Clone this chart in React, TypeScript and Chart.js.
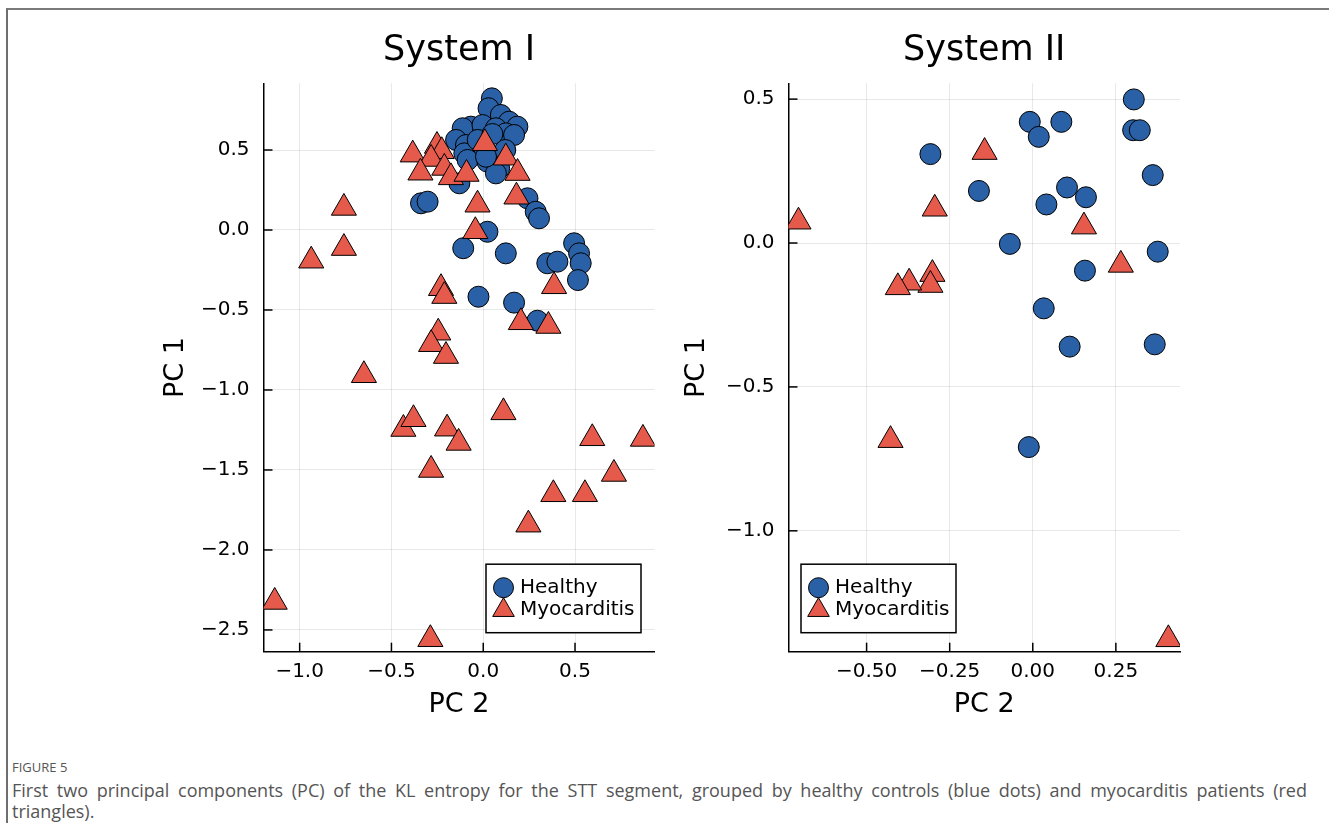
import React, { useEffect, useRef } from 'react';
import { Chart, registerables } from 'chart.js';

Chart.register(...registerables);

// ---------- data ----------
const SERIES_LABELS = ['Healthy', 'Myocarditis'];
const PANEL_TITLES = ['System I', 'System II'];
const X_TITLE = 'PC 2';
const Y_TITLE = 'PC 1';

// System I
const S1_HEALTHY_X = [0.047, 0.029, 0.096, 0.141, 0.186, -0.067, -0.112, -0.004, 0.069, 0.123, 0.168, -0.148, -0.094, -0.04, -0.103, -0.085, 0.023, 0.087, 0.069, -0.13, 0.12, -0.03, 0.015, 0.05, -0.339, -0.303, 0.241, 0.286, 0.304, 0.023, -0.109, 0.123, 0.495, 0.522, 0.531, 0.349, 0.404, 0.516, -0.026, 0.168, 0.295];
const S1_HEALTHY_Y = [0.823, 0.761, 0.719, 0.677, 0.646, 0.646, 0.636, 0.656, 0.636, 0.604, 0.594, 0.563, 0.531, 0.5, 0.479, 0.438, 0.427, 0.386, 0.354, 0.292, 0.5, 0.563, 0.458, 0.6, 0.167, 0.177, 0.198, 0.114, 0.073, -0.011, -0.114, -0.146, -0.083, -0.146, -0.208, -0.208, -0.198, -0.313, -0.417, -0.454, -0.567];
const S1_MYO_X = [-0.759, -0.759, -0.937, -0.384, -0.252, -0.226, -0.284, -0.342, -0.212, -0.176, -0.091, 0.009, 0.123, 0.187, 0.181, -0.031, -0.043, -0.23, -0.212, 0.386, 0.205, 0.355, -0.245, -0.284, -0.203, -0.65, -0.435, -0.38, -0.197, -0.134, -0.284, 0.11, 0.594, 0.87, 0.712, 0.554, 0.382, 0.246, -1.136, -0.288];
const S1_MYO_Y = [0.138, -0.113, -0.192, 0.471, 0.525, 0.492, 0.444, 0.358, 0.388, 0.329, 0.35, 0.542, 0.452, 0.356, 0.208, 0.158, -0.008, -0.364, -0.413, -0.352, -0.577, -0.6, -0.642, -0.714, -0.788, -0.908, -1.244, -1.183, -1.242, -1.331, -1.5, -1.14, -1.302, -1.306, -1.525, -1.652, -1.652, -1.842, -2.325, -2.558];

// System II
const S2_HEALTHY_X = [0.304, 0.302, 0.322, 0.361, -0.009, 0.086, 0.018, -0.308, -0.162, 0.103, 0.16, 0.041, -0.069, 0.376, 0.157, 0.033, 0.111, 0.367, -0.012];
const S2_HEALTHY_Y = [0.499, 0.392, 0.392, 0.236, 0.421, 0.421, 0.369, 0.309, 0.181, 0.193, 0.159, 0.134, -0.003, -0.03, -0.096, -0.227, -0.36, -0.352, -0.709];
const S2_MYO_X = [-0.705, -0.145, -0.295, 0.154, 0.265, -0.302, -0.308, -0.372, -0.406, -0.428, 0.408];
const S2_MYO_Y = [0.074, 0.316, 0.119, 0.057, -0.076, -0.108, -0.146, -0.138, -0.154, -0.685, -1.377];

// axes
const S1_X_RANGE = [-1.197, 0.933];
const S1_Y_RANGE = [-2.636, 0.917];
const S1_X_TICKS = [-1.0, -0.5, 0.0, 0.5];
const S1_X_TICK_LABELS = ['\u22121.0', '\u22120.5', '0.0', '0.5'];
const S1_Y_TICKS = [0.5, 0.0, -0.5, -1.0, -1.5, -2.0, -2.5];
const S1_Y_TICK_LABELS = ['0.5', '0.0', '\u22120.5', '\u22121.0', '\u22121.5', '\u22122.0', '\u22122.5'];

const S2_X_RANGE = [-0.735, 0.443];
const S2_Y_RANGE = [-1.42, 0.555];
const S2_X_TICKS = [-0.5, -0.25, 0.0, 0.25];
const S2_X_TICK_LABELS = ['\u22120.50', '\u22120.25', '0.00', '0.25'];
const S2_Y_TICKS = [0.5, 0.0, -0.5, -1.0];
const S2_Y_TICK_LABELS = ['0.5', '0.0', '\u22120.5', '\u22121.0'];

const CAPTION_LABEL = 'FIGURE 5';
const CAPTION_LINE1 = 'First two principal components (PC) of the KL entropy for the STT segment, grouped by healthy controls (blue dots) and myocarditis patients (red';
const CAPTION_LINE2 = 'triangles).';

// ---------- styles ----------
const BLUE = '#2960a6';
const RED = '#e65a4b';
const FONT = '"DejaVu Sans", sans-serif';

const zip = (xs: number[], ys: number[]) => xs.map((x, i) => ({ x, y: ys[i] }));

const innerTicksPlugin = {
  id: 'innerTicks',
  afterDatasetsDraw(chart: any) {
    const { ctx, chartArea: a, scales } = chart;
    ctx.save();
    ctx.strokeStyle = '#000';
    ctx.lineWidth = 1.5;
    for (const t of scales.x.ticks) {
      const p = scales.x.getPixelForValue(t.value);
      ctx.beginPath();
      ctx.moveTo(p, a.bottom);
      ctx.lineTo(p, a.bottom - 9);
      ctx.stroke();
    }
    for (const t of scales.y.ticks) {
      const p = scales.y.getPixelForValue(t.value);
      ctx.beginPath();
      ctx.moveTo(a.left, p);
      ctx.lineTo(a.left + 9, p);
      ctx.stroke();
    }
    ctx.restore();
  },
};

const boxLegendPlugin = {
  id: 'boxLegend',
  afterDraw(chart: any, _args: any, opts: any) {
    const { ctx, chartArea: a } = chart;
    const w = 155;
    const h = 68.5;
    const left = opts.side === 'right' ? a.right - 13.5 - w : a.left + 12.5;
    const top = a.bottom - 19 - h;
    ctx.save();
    ctx.fillStyle = '#fff';
    ctx.fillRect(left, top, w, h);
    ctx.strokeStyle = '#000';
    ctx.lineWidth = 1.5;
    ctx.strokeRect(left, top, w, h);
    const rows = [top + 23.5, top + 46];
    chart.data.datasets.forEach((ds: any, i: number) => {
      const cx = left + 17.5;
      const cy = rows[i];
      ctx.fillStyle = ds.backgroundColor;
      ctx.strokeStyle = '#000';
      ctx.lineWidth = 1;
      ctx.beginPath();
      if (ds.pointStyle === 'circle') {
        ctx.arc(cx, cy, 10, 0, Math.PI * 2);
      } else {
        const r = 12.5;
        ctx.moveTo(cx, cy - r);
        ctx.lineTo(cx + r * 0.866, cy + r * 0.5);
        ctx.lineTo(cx - r * 0.866, cy + r * 0.5);
        ctx.closePath();
      }
      ctx.fill();
      ctx.stroke();
      ctx.fillStyle = '#000';
      ctx.font = `20px ${FONT}`;
      ctx.textBaseline = 'middle';
      ctx.textAlign = 'left';
      ctx.fillText(ds.label, left + 34, cy);
    });
    ctx.restore();
  },
};

type PanelProps = {
  title: string;
  healthy: { x: number; y: number }[];
  myo: { x: number; y: number }[];
  xRange: number[];
  yRange: number[];
  xTicks: number[];
  xTickLabels: string[];
  yTicks: number[];
  yTickLabels: string[];
  left: number;
  width: number;
  chartLeft: number;
  chartRight: number;
  yTitlePad: number;
  legendSide: 'left' | 'right';
};

const HEIGHT = 720;
const CHART_TOP = 73.3;
const CHART_BOTTOM = 641.7;
const TITLE_PAD_TOP = 19.5;

function labelFor(ticks: number[], labels: string[], v: number) {
  const i = ticks.findIndex((t) => Math.abs(t - v) < 1e-9);
  return i >= 0 ? labels[i] : '';
}

function Panel(p: PanelProps) {
  const ref = useRef<HTMLCanvasElement | null>(null);
  useEffect(() => {
    if (!ref.current) return;
    const chart = new Chart(ref.current, {
      type: 'scatter',
      data: {
        datasets: [
          {
            label: SERIES_LABELS[0],
            data: p.healthy,
            pointStyle: 'circle',
            pointRadius: 10.5,
            backgroundColor: BLUE,
            borderColor: '#000',
            borderWidth: 1,
            order: 1,
            clip: 0,
          },
          {
            label: SERIES_LABELS[1],
            data: p.myo,
            pointStyle: 'triangle',
            pointRadius: 14.5,
            backgroundColor: RED,
            borderColor: '#000',
            borderWidth: 1,
            order: 0,
            clip: 0,
          },
        ],
      } as any,
      options: {
        animation: false,
        responsive: false,
        maintainAspectRatio: false,
        events: [],
        layout: { padding: { left: 0, top: 0, bottom: 0, right: p.width - p.chartRight } },
        plugins: {
          legend: { display: false },
          tooltip: { enabled: false },
          title: {
            display: true,
            text: p.title,
            fullSize: false,
            color: '#000',
            font: { family: FONT, size: 35, weight: 'normal' },
            padding: { top: TITLE_PAD_TOP, bottom: CHART_TOP - TITLE_PAD_TOP - 42 },
          },
          boxLegend: { side: p.legendSide },
        } as any,
        scales: {
          x: {
            type: 'linear',
            min: p.xRange[0],
            max: p.xRange[1],
            afterBuildTicks: (s: any) => {
              s.ticks = p.xTicks.map((v) => ({ value: v }));
            },
            afterFit: (s: any) => {
              s.height = HEIGHT - CHART_BOTTOM;
            },
            ticks: {
              autoSkip: false,
              maxRotation: 0,
              padding: 8,
              color: '#000',
              font: { family: FONT, size: 20 },
              callback: (v: any) => labelFor(p.xTicks, p.xTickLabels, Number(v)),
            },
            grid: { color: 'rgba(0,0,0,0.09)', lineWidth: 1, drawTicks: false },
            border: { display: true, color: '#000', width: 1.5 },
            title: {
              display: true,
              text: X_TITLE,
              color: '#000',
              font: { family: FONT, size: 27 },
              padding: { top: 0, bottom: 8.8 },
            },
          },
          y: {
            type: 'linear',
            min: p.yRange[0],
            max: p.yRange[1],
            afterBuildTicks: (s: any) => {
              s.ticks = p.yTicks.map((v) => ({ value: v }));
            },
            afterFit: (s: any) => {
              s.width = p.chartLeft;
            },
            ticks: {
              autoSkip: false,
              padding: 14,
              color: '#000',
              font: { family: FONT, size: 20 },
              callback: (v: any) => labelFor(p.yTicks, p.yTickLabels, Number(v)),
            },
            grid: { color: 'rgba(0,0,0,0.09)', lineWidth: 1, drawTicks: false },
            border: { display: true, color: '#000', width: 1.5 },
            title: {
              display: true,
              text: Y_TITLE,
              color: '#000',
              font: { family: FONT, size: 27 },
              padding: { top: p.yTitlePad, bottom: 0 },
            },
          },
        } as any,
      },
      plugins: [innerTicksPlugin, boxLegendPlugin],
    });
    return () => chart.destroy();
  }, []);
  return (
    <canvas
      ref={ref}
      width={p.width}
      height={HEIGHT}
      style={{ position: 'absolute', left: p.left, top: 10, width: p.width, height: HEIGHT }}
    />
  );
}

export default function App() {
  return (
    <div
      style={{
        position: 'absolute',
        left: 0,
        top: 0,
        width: 1329,
        height: 823,
        overflow: 'hidden',
        background: '#fff',
      }}
    >
      <div
        style={{
          position: 'absolute',
          left: 6,
          top: 7.5,
          width: 1400,
          height: 900,
          borderTop: '2px solid #7a7a7a',
          borderLeft: '2px solid #6e6e6e',
        }}
      />
      <Panel
        title={PANEL_TITLES[0]}
        healthy={zip(S1_HEALTHY_X, S1_HEALTHY_Y)}
        myo={zip(S1_MYO_X, S1_MYO_Y)}
        xRange={S1_X_RANGE}
        yRange={S1_Y_RANGE}
        xTicks={S1_X_TICKS}
        xTickLabels={S1_X_TICK_LABELS}
        yTicks={S1_Y_TICKS}
        yTickLabels={S1_Y_TICK_LABELS}
        left={130}
        width={540}
        chartLeft={133.5}
        chartRight={526}
        yTitlePad={29.8}
        legendSide="right"
      />
      <Panel
        title={PANEL_TITLES[1]}
        healthy={zip(S2_HEALTHY_X, S2_HEALTHY_Y)}
        myo={zip(S2_MYO_X, S2_MYO_Y)}
        xRange={S2_X_RANGE}
        yRange={S2_Y_RANGE}
        xTicks={S2_X_TICKS}
        xTickLabels={S2_X_TICK_LABELS}
        yTicks={S2_Y_TICKS}
        yTickLabels={S2_Y_TICK_LABELS}
        left={670}
        width={530}
        chartLeft={118.5}
        chartRight={510}
        yTitlePad={10.5}
        legendSide="left"
      />
      <div
        style={{
          position: 'absolute',
          left: 12,
          top: 759,
          fontFamily: '"Open Sans", sans-serif',
          fontSize: 13,
          lineHeight: '17px',
          color: '#555',
        }}
      >
        {CAPTION_LABEL}
      </div>
      <div
        style={{
          position: 'absolute',
          left: 12,
          top: 778,
          width: 1295,
          fontFamily: '"Open Sans", sans-serif',
          fontSize: 18,
          lineHeight: '24px',
          color: '#555',
          textAlign: 'justify',
          textAlignLast: 'justify' as any,
          whiteSpace: 'nowrap',
        }}
      >
        {CAPTION_LINE1}
      </div>
      <div
        style={{
          position: 'absolute',
          left: 12,
          top: 799,
          fontFamily: '"Open Sans", sans-serif',
          fontSize: 18,
          lineHeight: '24px',
          color: '#555',
        }}
      >
        {CAPTION_LINE2}
      </div>
    </div>
  );
}
